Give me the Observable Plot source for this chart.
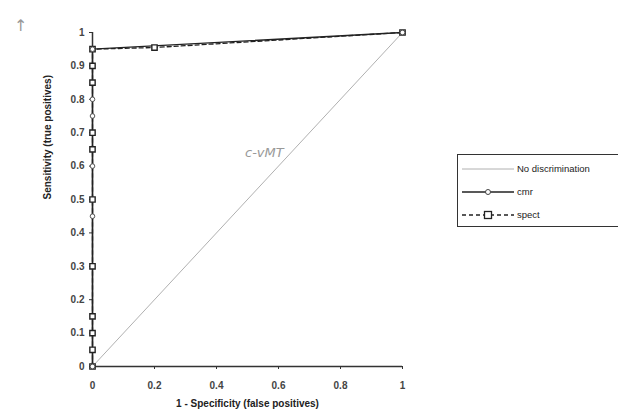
<!DOCTYPE html>
<html>
<head>
<meta charset="utf-8">
<script src="https://cdn.jsdelivr.net/npm/d3@7"></script>
<script src="https://cdn.jsdelivr.net/npm/@observablehq/plot@0.6"></script>
<style>
  body { margin: 0; background: #fff; font-family: "Liberation Sans", Arial, sans-serif; }
  #wrap { position: relative; width: 618px; height: 420px; overflow: hidden; }
  #legend { position: absolute; left: 457px; top: 154px; width: 175px; height: 73px; border: 1.5px solid #333; box-sizing: border-box; background: #fff; font-size: 9.5px; color: #222; padding-top: 2px; }
  #legend .row { display: flex; align-items: center; height: 23px; padding-left: 4px; }
  #legend svg { flex: none; }
  .note { position: absolute; color: #999; font-family: "DejaVu Sans", sans-serif; }
</style>
</head>
<body>
<div id="wrap"></div>
<script>
const diagX = [0, 1];
const diagY = [0, 1];
const cmrX = [0, 0, 0, 0, 0, 0, 1];
const cmrY = [0, 0.45, 0.6, 0.75, 0.8, 0.95, 1];
const spectX = [0, 0, 0, 0, 0, 0, 0, 0, 0, 0, 0, 0.2, 1];
const spectY = [0, 0.05, 0.1, 0.15, 0.3, 0.5, 0.65, 0.7, 0.85, 0.9, 0.95, 0.955, 1];
const xTicks = [0, 0.2, 0.4, 0.6, 0.8, 1];
const yTicks = [0, 0.1, 0.2, 0.3, 0.4, 0.5, 0.6, 0.7, 0.8, 0.9, 1];
const seriesNames = ["No discrimination", "cmr", "spect"];
const xLabel = "1 - Specificity (false positives)";
const yLabel = "Sensitivity (true positives)";

const diag = diagX.map((x, i) => ({x, y: diagY[i]}));
const cmr = cmrX.map((x, i) => ({x, y: cmrY[i]}));
const spect = spectX.map((x, i) => ({x, y: spectY[i]}));
const fmt = d => String(+d.toFixed(2));

const chart = Plot.plot({
  width: 618,
  height: 420,
  marginLeft: 92,
  marginRight: 216,
  marginTop: 32,
  marginBottom: 54,
  style: {fontFamily: "Liberation Sans, Arial, sans-serif", fontSize: "10px", fontWeight: "bold", color: "#333", background: "#fff"},
  x: {domain: [0, 1], ticks: xTicks, tickFormat: fmt, label: null},
  y: {domain: [0, 1], ticks: yTicks, tickFormat: fmt, label: null},
  marks: [
    Plot.line(diag, {x: "x", y: "y", stroke: "#b0b0b0", strokeWidth: 1}),
    Plot.ruleY([0], {stroke: "#333", strokeWidth: 1.5}),
    Plot.ruleX([0], {stroke: "#333", strokeWidth: 1.5}),
    Plot.axisX({ticks: xTicks, tickFormat: fmt, tickSize: 3, tickPadding: 12, label: null, fontWeight: "bold", fill: "#444"}),
    Plot.axisY({ticks: yTicks, tickFormat: fmt, tickSize: 3, tickPadding: 5, label: null, fontWeight: "bold", fill: "#444"}),
    Plot.line(spect, {x: "x", y: "y", stroke: "#222", strokeWidth: 1.3, strokeDasharray: "4,3"}),
    Plot.line(cmr, {x: "x", y: "y", stroke: "#222", strokeWidth: 1.3}),
    Plot.dot(spect, {x: "x", y: "y", symbol: "square", r: 3, stroke: "#222", strokeWidth: 1.4, fill: "#fff"}),
    Plot.dot(cmr, {x: "x", y: "y", symbol: "circle", r: 2.3, stroke: "#555", strokeWidth: 1, fill: "#fff"}),
    Plot.text([xLabel], {frameAnchor: "bottom", dy: 40, text: d => d, fontWeight: "bold", fontSize: 10, fill: "#222"}),
    Plot.text([yLabel], {frameAnchor: "left", dx: -45, rotate: -90, text: d => d, fontWeight: "bold", fontSize: 10, fill: "#222"})
  ]
});

const wrap = document.getElementById("wrap");
wrap.appendChild(chart);

const legend = document.createElement("div");
legend.id = "legend";
const swatches = [
  `<svg width="52" height="12"><line x1="0" y1="6" x2="52" y2="6" stroke="#b0b0b0" stroke-width="1"/></svg>`,
  `<svg width="52" height="12"><line x1="0" y1="6" x2="52" y2="6" stroke="#222" stroke-width="1.3"/><circle cx="26" cy="6" r="2.5" fill="#fff" stroke="#444"/></svg>`,
  `<svg width="52" height="12"><line x1="0" y1="6" x2="52" y2="6" stroke="#222" stroke-width="1.3" stroke-dasharray="4,3"/><rect x="22.5" y="2.5" width="7" height="7" fill="#fff" stroke="#222" stroke-width="1.3"/></svg>`
];
seriesNames.forEach((name, i) => {
  const row = document.createElement("div");
  row.className = "row";
  row.innerHTML = swatches[i] + `<span style="margin-left:3px">${name}</span>`;
  legend.appendChild(row);
});
wrap.appendChild(legend);

const n1 = document.createElement("div");
n1.className = "note"; n1.style.left = "14px"; n1.style.top = "16px"; n1.style.fontSize = "16px";
n1.textContent = "↑";
wrap.appendChild(n1);
const n2 = document.createElement("div");
n2.className = "note"; n2.style.left = "245px"; n2.style.top = "145px"; n2.style.fontSize = "13px"; n2.style.fontStyle = "italic";
n2.textContent = "c-vMT";
wrap.appendChild(n2);
</script>
</body>
</html>
